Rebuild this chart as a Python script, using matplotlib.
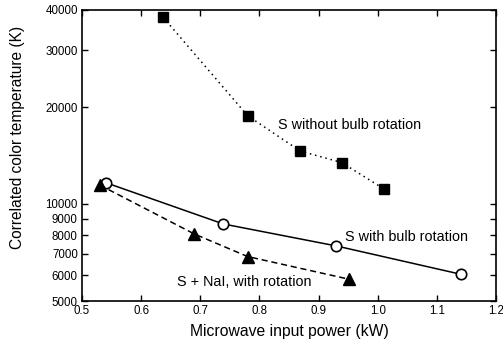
import matplotlib
matplotlib.use("Agg")
import matplotlib.pyplot as plt
from matplotlib.ticker import FixedLocator, FixedFormatter, NullLocator

plt.rcParams['font.family'] = ['Liberation Sans', 'DejaVu Sans']

# Data
x_norot = [0.637, 0.780, 0.869, 0.939, 1.010]
y_norot = [38000, 18800, 14600, 13450, 11150]

x_rot = [0.540, 0.739, 0.930, 1.141]
y_rot = [11650, 8670, 7410, 6050]

x_nai = [0.530, 0.690, 0.780, 0.952]
y_nai = [11450, 8070, 6870, 5840]

x_ticks = [0.5, 0.6, 0.7, 0.8, 0.9, 1.0, 1.1, 1.2]
x_ticklabels = ["0.5", "0.6", "0.7", "0.8", "0.9", "1.0", "1.1", "1.2"]
y_ticks = [5000, 6000, 7000, 8000, 9000, 10000, 20000, 30000, 40000]
y_ticklabels = ["5000", "6000", "7000", "8000", "9000", "10000", "20000", "30000", "40000"]

fig = plt.figure(figsize=(5.03, 3.47), dpi=100)
ax = fig.add_axes([82/503, 1 - 301/347, (496 - 82)/503, (301 - 10)/347])

ax.plot(x_norot, y_norot, color='black', linestyle=(0, (1, 2.5)), linewidth=1.1,
        marker='s', markersize=6.5, markerfacecolor='black', markeredgecolor='black')
ax.plot(x_rot, y_rot, color='black', linestyle='-', linewidth=1.1,
        marker='o', markersize=7.5, markerfacecolor='white', markeredgecolor='black',
        markeredgewidth=1.2)
ax.plot(x_nai, y_nai, color='black', linestyle=(0, (4, 2.5)), linewidth=1.1,
        marker='^', markersize=8, markerfacecolor='black', markeredgecolor='black')

ax.set_yscale('log')
ax.set_xlim(0.5, 1.2)
ax.set_ylim(5000, 40000)

ax.xaxis.set_major_locator(FixedLocator(x_ticks))
ax.xaxis.set_major_formatter(FixedFormatter(x_ticklabels))
ax.xaxis.set_minor_locator(NullLocator())
ax.yaxis.set_major_locator(FixedLocator(y_ticks))
ax.yaxis.set_major_formatter(FixedFormatter(y_ticklabels))
ax.yaxis.set_minor_locator(NullLocator())

ax.tick_params(axis='both', which='major', direction='in', top=True, right=True,
               length=4, width=1.0, labelsize=8.3, pad=3)

for s in ax.spines.values():
    s.set_linewidth(1.2)

ax.set_xlabel("Microwave input power (kW)", fontsize=11.3, labelpad=5)
ax.set_ylabel("Correlated color temperature (K)", fontsize=11.2)
ax.yaxis.set_label_coords(-0.138, 0.562)

ax.text(0.832, 17600, "S without bulb rotation", fontsize=10.4, va='center', ha='left')
ax.text(0.945, 7920, "S with bulb rotation", fontsize=10.4, va='center', ha='left')
ax.text(0.661, 5740, "S + NaI, with rotation", fontsize=10.4, va='center', ha='left')

fig.savefig("out.png", dpi=100)
